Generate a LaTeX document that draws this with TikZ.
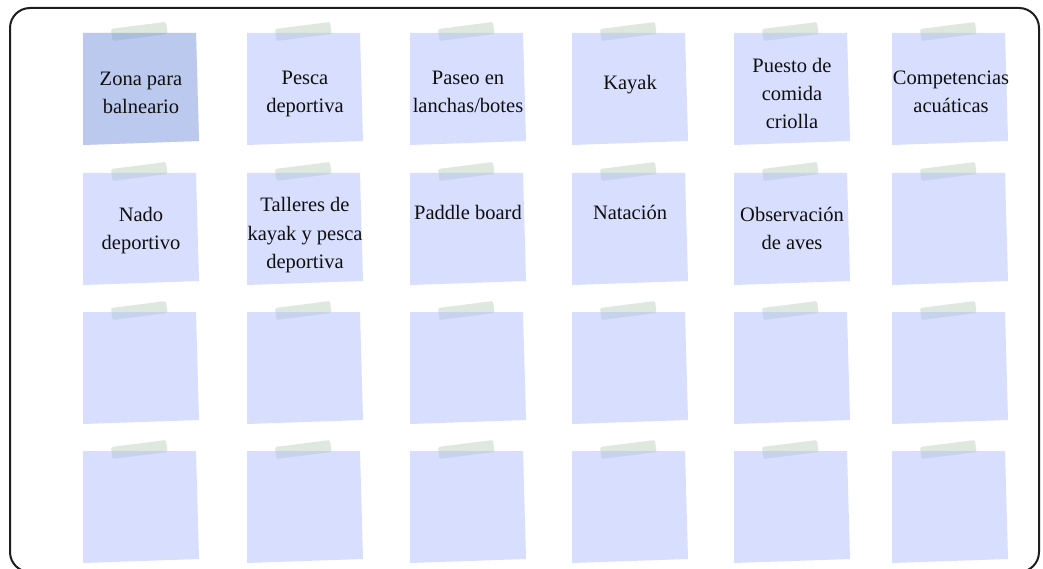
\documentclass[tikz,border=0pt]{standalone}
\usepackage{fontspec}
\setmainfont{Liberation Serif}
\definecolor{notecol}{RGB}{177,189,251}
\definecolor{notedark}{RGB}{121,149,225}
\definecolor{tapecol}{RGB}{222,232,222}
\definecolor{frm}{RGB}{30,30,30}
\definecolor{ink}{RGB}{15,15,15}
\tikzset{
  notetext/.style={align=center, font=\fontsize{20.5}{28}\selectfont, text=ink, inner sep=0pt, anchor=base},
  tape/.style={fill=tapecol, rounded corners=1.5pt},
  notebody/.style={fill opacity=0.5},
  frame/.style={draw=frm, line width=2pt, rounded corners=20pt}
}
\newcommand\stickynote[3]{%
  \fill[tape] (#1+28,#2-4) -- (#1+83,#2-11) -- (#1+84.5,#2+1) -- (#1+29.5,#2+8) -- cycle;
  \fill[#3, notebody] (#1,#2) -- (#1+113,#2) -- (#1+116,#2+108) -- (#1,#2+112) -- cycle;
}
\begin{document}
\begin{tikzpicture}[x=1pt,y=-1pt]
\useasboundingbox (0,0) rectangle (1043,569);
\clip (0,0) rectangle (1043,569);
\draw[frame] (10,8) rectangle (1039,572);
\foreach \yy in {33,173,312,451}{
  \foreach \xx in {83,247,410,572,734,892}{
    \stickynote{\xx}{\yy}{notecol}
  }
}
\fill[white] (83,33) -- (196,33) -- (199,141) -- (83,145) -- cycle;
\stickynote{83}{33}{notedark}
% row 1 (anchor = baseline of last line)
\node[notetext] (t11) at (141,114) {Zona para\\balneario};
\node[notetext] (t12) at (305,113) {Pesca\\deportiva};
\node[notetext] (t13) at (468,113) {Paseo en\\lanchas/botes};
\node[notetext] (t14) at (630,90) {Kayak};
\node[notetext] (t15) at (792,129) {Puesto de\\comida\\criolla};
\node[notetext] (t16) at (951,113) {Competencias\\acuáticas};
% row 2
\node[notetext] (t21) at (141,249) {Nado\\deportivo};
\node[notetext] (t22) at (305,268) {Talleres de\\kayak y pesca\\deportiva};
\node[notetext] (t23) at (468,220) {Paddle board};
\node[notetext] (t24) at (630,220) {Natación};
\node[notetext] (t25) at (792,249) {Observación\\de aves};
\end{tikzpicture}
\end{document}
